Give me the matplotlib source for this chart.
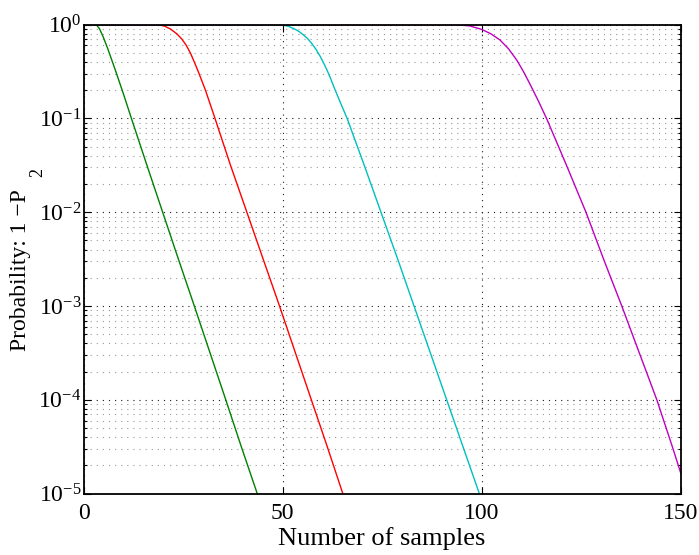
#!/usr/bin/env python3

import matplotlib
matplotlib.use('Agg')
import matplotlib.pyplot as plt
import matplotlib.ticker as ticker

plt.rcParams['font.family'] = ['Liberation Serif', 'DejaVu Serif']
plt.rcParams['mathtext.fontset'] = 'stix'

# values
n_green = [0, 3.2, 4.0, 5.0, 6.0, 7.0, 8.0, 9.0, 10.0, 11.0, 12.0,
           15.9, 19.85, 23.8, 27.8, 31.75, 35.7, 39.6, 43.6]
p_green = [1.0, 1.0, 0.902, 0.724, 0.562, 0.427, 0.324, 0.243, 0.182, 0.135,
           0.1, 3.16e-2, 1e-2, 3.16e-3, 1e-3, 3.16e-4, 1e-4, 3.16e-5, 1e-5]

n_red = [0, 18.7, 20.3, 21.8, 23.4, 24.7, 25.8, 26.8, 27.8, 29.0, 30.6, 33.0,
         36.9, 41.0, 45.1, 49.2, 53.2, 57.2, 61.2, 65.1]
p_red = [1.0, 1.0, 0.966, 0.9, 0.8, 0.7, 0.6, 0.5, 0.4, 0.3, 0.2, 0.1,
         3.16e-2, 1e-2, 3.16e-3, 1e-3, 3.16e-4, 1e-4, 3.16e-5, 1e-5]

n_cyan = [0, 48.0, 50.0, 51.5, 53.0, 54.2, 55.2, 56.3, 57.3, 58.4, 59.4,
          60.3, 61.2, 62.0, 62.7, 64.4, 66.2,
          70.5, 74.7, 78.9, 83.0, 87.1, 91.2, 95.3, 99.4]
p_cyan = [1.0, 1.0, 0.991, 0.959, 0.9, 0.841, 0.78, 0.708, 0.631, 0.543, 0.462,
          0.389, 0.324, 0.269, 0.226, 0.151, 0.1,
          3.16e-2, 1e-2, 3.16e-3, 1e-3, 3.16e-4, 1e-4, 3.16e-5, 1e-5]

n_magenta = [0, 94.0, 97.0, 100.0, 102.3, 104.6, 106.7, 108.8, 110.5, 112.1,
             114.2, 116.3, 121.4, 126.2, 130.7, 135.2, 139.6, 144.0, 147.9,
             150.0]
p_magenta = [1.0, 1.0, 0.97, 0.891, 0.8, 0.687, 0.556, 0.42, 0.316, 0.234,
             0.155, 0.1, 3.1e-2, 1e-2, 3.1e-3, 1e-3, 3.16e-4, 1e-4, 3.16e-5,
             1.66e-5]

x_ticks = [0, 50, 100, 150]

figure = plt.figure(figsize=(6.99, 5.55), dpi=100)
ax = figure.add_axes([0.1197, 0.1108, 0.8541, 0.8447])

ax.plot(n_green, p_green, color=(0, 0.5, 0), lw=1.0)
ax.plot(n_red, p_red, color=(1, 0, 0), lw=1.0)
ax.plot(n_cyan, p_cyan, color=(0, 0.75, 0.75), lw=1.0)
ax.plot(n_magenta, p_magenta, color=(0.75, 0, 0.75), lw=1.0)

ax.set_yscale('log')
ax.set_xlim(0, 150)
ax.set_ylim(1e-5, 1)
ax.set_xticks(x_ticks)
ax.xaxis.set_minor_locator(ticker.NullLocator())
ax.yaxis.set_major_locator(ticker.LogLocator(base=10, numticks=10))
ax.yaxis.set_minor_locator(ticker.LogLocator(base=10, subs=range(2, 10), numticks=20))
ax.yaxis.set_minor_formatter(ticker.NullFormatter())

dots = (0, (1, 4.5))
ax.grid(which='major', linestyle=dots, color='0.1', linewidth=0.8)
ax.grid(which='minor', axis='y', linestyle=dots, color='0.6', linewidth=0.8)

ax.tick_params(which='both', direction='in', top=True, right=True,
               labelsize=17, width=0.8)
ax.tick_params(which='major', length=5)
ax.tick_params(which='minor', length=2.5)
ax.tick_params(axis='y', pad=1.5)
ax.tick_params(axis='x', pad=7)

for spine in ax.spines.values():
    spine.set_linewidth(1.3)

ax.set_xlabel('Number of samples', fontsize=19, labelpad=2)

figure.text(0.030, 0.5135, 'Probability: 1 \u2212P', rotation=90,
            ha='center', va='center', fontsize=17)
figure.text(0.0544, 0.6883, '2', rotation=90, ha='center', va='center',
            fontsize=13)

figure.savefig('out.png', dpi=100)
